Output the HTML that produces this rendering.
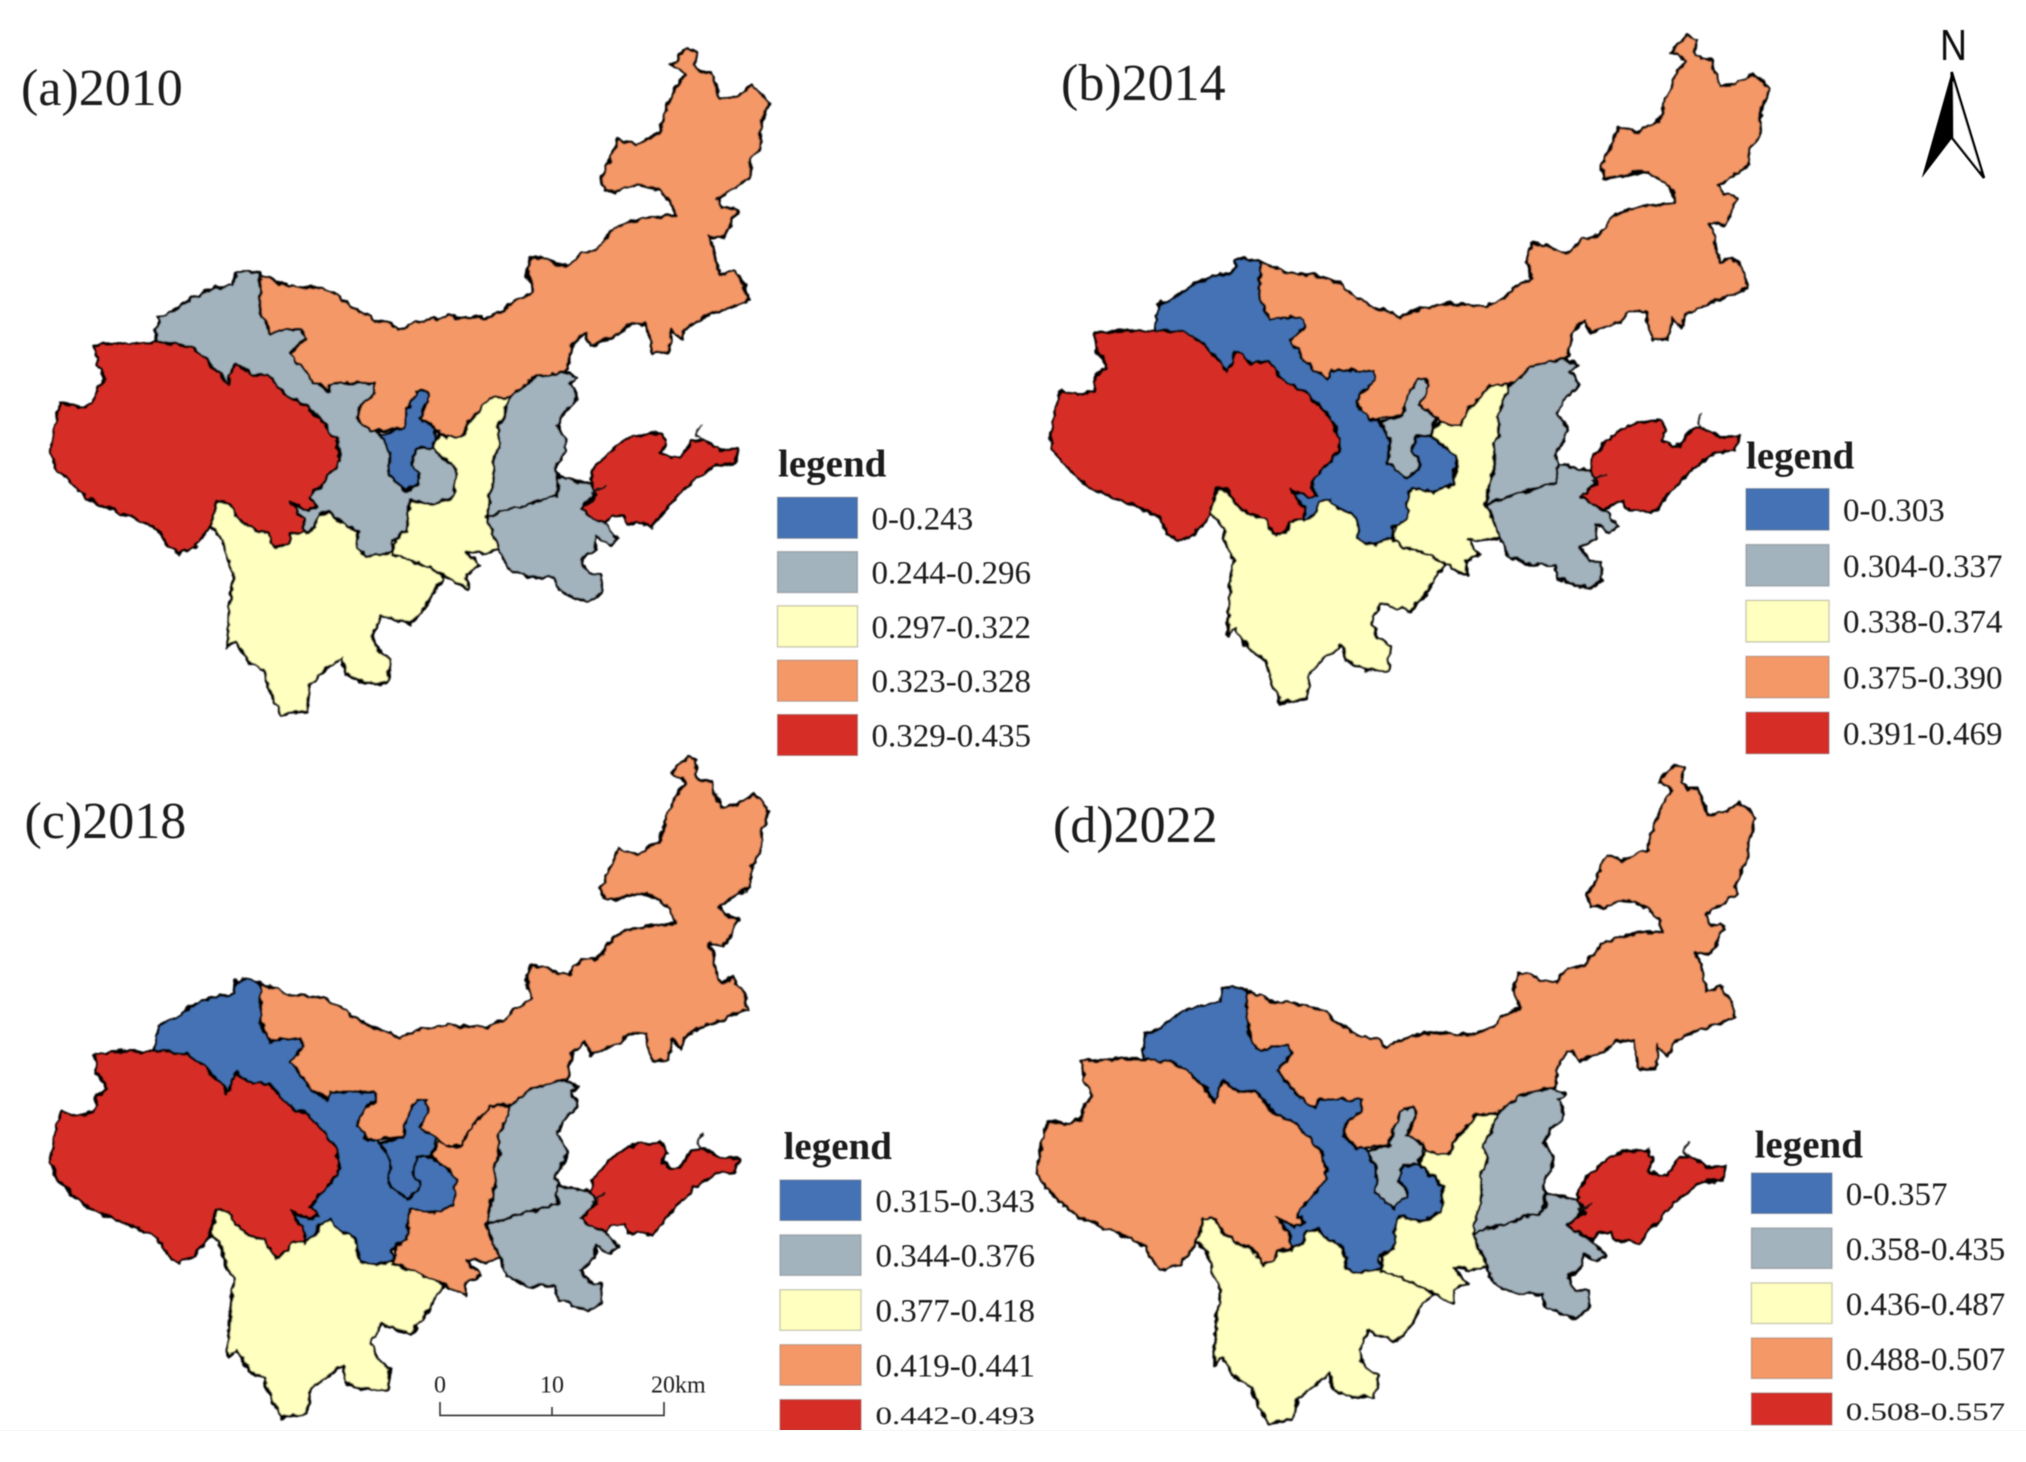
<!DOCTYPE html>
<html lang="en">
<head>
<meta charset="utf-8">
<title>Regional maps 2010-2022</title>
<style>
  html, body { margin: 0; padding: 0; background: #fff; }
  svg { display: block; }
  text { font-family: "Liberation Serif", serif; fill: #1c1c1c; }
</style>
</head>
<body>
<svg id="figure" xmlns="http://www.w3.org/2000/svg" width="2026" height="1462" viewBox="0 0 2026 1462">
  <defs>
    <filter id="jag" filterUnits="userSpaceOnUse" x="0" y="0" width="2026" height="1462" color-interpolation-filters="sRGB">
      <feTurbulence type="fractalNoise" baseFrequency="0.11" numOctaves="2" seed="4" result="n"/>
      <feDisplacementMap in="SourceGraphic" in2="n" scale="7" xChannelSelector="R" yChannelSelector="G"/>
      <feGaussianBlur stdDeviation="0.6"/>
    </filter>
    <filter id="soft" filterUnits="userSpaceOnUse" x="0" y="0" width="2026" height="1462">
      <feGaussianBlur stdDeviation="0.5"/>
    </filter>
  </defs>
  <rect x="0" y="0" width="2026" height="1462" fill="#ffffff"/>
  <g id="content" filter="url(#soft)"></g>
  <rect x="0" y="1430" width="2026" height="32" fill="#ffffff"/>
  <rect x="0" y="1430" width="2026" height="1" fill="#f6f6f6"/>

  <g filter="url(#soft)">
    <path d="M440 1402V1415.4H664V1402M552 1415V1407" fill="none" stroke="#333" stroke-width="1.6"/>
    <text x="440" y="1392.5" font-size="24" text-anchor="middle">0</text>
    <text x="552" y="1392.5" font-size="24" text-anchor="middle">10</text>
    <text x="651" y="1392.5" font-size="24">20km</text>
  </g>

  <g filter="url(#soft)">
    <text x="1940" y="60" font-size="44" textLength="27" lengthAdjust="spacingAndGlyphs" style="font-family:'Liberation Sans',sans-serif;fill:#111">N</text>
    <path d="M1951.7 72L1921.7 178L1952.3 138Z" fill="#000"/>
    <path d="M1951.7 72L1984 178L1952.3 138Z" fill="#fff" stroke="#000" stroke-width="2.6" stroke-linejoin="miter"/>
  </g>
</svg>

<script>
// Region drawing order
const regionNames = ['sichuan', 'shaanxi', 'henan', 'shanxi', 'gansu', 'qinghai', 'inner-mongolia', 'ningxia', 'shandong'];

// Class index per region (0 lowest ... 4 highest), same order as regionNames
const classes2010 = [2, 2, 1, 1, 1, 4, 3, 0, 4];
const classes2014 = [2, 2, 1, 1, 0, 4, 3, 1, 4];
const classes2018 = [2, 3, 1, 1, 0, 4, 3, 0, 4];
const classes2022 = [2, 2, 1, 1, 0, 3, 3, 1, 4];

// Legend class labels
const legend2010 = ['0-0.243', '0.244-0.296', '0.297-0.322', '0.323-0.328', '0.329-0.435'];
const legend2014 = ['0-0.303', '0.304-0.337', '0.338-0.374', '0.375-0.390', '0.391-0.469'];
const legend2018 = ['0.315-0.343', '0.344-0.376', '0.377-0.418', '0.419-0.441', '0.442-0.493'];
const legend2022 = ['0-0.357', '0.358-0.435', '0.436-0.487', '0.488-0.507', '0.508-0.557'];

const classColors = ['#4472B4', '#A3B3BD', '#FFFFBF', '#F59868', '#D62F27'];

// Province outlines (base-map geometry)
const outlines = {
  'sichuan': [[340,1060],[500,1060],[510,1090],[550,1130],[600,1170],[660,1200],[688,1240],[670,1270],[660,1300],[635,1340],[590,1320],[575,1360],[585,1395],[605,1415],[600,1465],[565,1465],[535,1445],[530,1410],[505,1435],[480,1470],[475,1525],[435,1535],[420,1490],[410,1440],[385,1420],[365,1375],[352,1390],[355,1300],[362,1230],[350,1195],[345,1160],[325,1125]],
  'shaanxi': [[789.5,845],[789.5,854],[779,894],[769,919],[774,958],[764,980],[766,1022],[758.5,1065],[753,1105],[761,1137],[774,1180],[748,1187],[722.5,1183],[743,1215.5],[722.5,1230],[722.5,1262],[707,1251],[686,1233],[645,1208],[609,1190],[620,1100],[650,1000],[680,930],[700,880],[760,840]],
  'henan': [[864,1022],[913,1037],[925,1050],[903,1094],[942,1130],[957,1155],[944,1169],[924,1151],[921,1180],[898,1201],[911,1230],[931.4,1233],[931.4,1273],[911,1291],[890,1283],[864,1266],[859,1240],[815,1237],[784,1216],[774,1180],[761,1137],[753,1108],[810,1070],[850,1040]],
  'shanxi': [[830,795],[875,797],[895,811],[882,822],[890,837],[895,854],[872,886],[862,912],[877,944],[875,969],[859,1005],[864,1019],[862,1062],[810,1083],[753,1108],[758.5,1065],[766,1022],[764,980],[774,958],[769,919],[779,894],[789,854],[800,835]],
  'gansu': [[378,580],[403,587],[410,660],[420,700],[480,700],[480,730],[460,760],[500,800],[590,800],[590,850],[570,900],[590,933],[640,920],[665.6,958],[707,1008],[702,1065],[671,1083],[635,1072.5],[632,1094],[629.5,1140],[606,1158],[609,1183],[588,1190],[568,1194],[555,1180],[552,1137],[521,1115],[511,1097.5],[493,1105],[488,1130],[472,1144],[464,1119],[446,1080],[477,1094],[480,1000],[400,900],[310,800],[240,735],[245,680],[270,665],[295,640],[330,618],[360,612],[365,585]],
  'qinghai': [[147,740],[200,735],[250,735],[290,742],[310,760],[340,800],[352,825],[365,780],[390,805],[415,803],[445,850],[475,870],[500,905],[520,940],[526,990],[510,1020],[485,1058],[480,1070],[493,1087],[477,1094],[449,1076],[470,1115],[472,1140],[449,1147],[446,1165],[426,1176],[410,1140],[385,1130],[365,1105],[355,1080],[335,1075],[325,1130],[300,1175],[275,1188],[258,1170],[245,1135],[215,1115],[185,1100],[135,1070],[115,1045],[90,1010],[77,975],[85,910],[95,865],[120,875],[145,865],[150,830],[165,815],[150,780]],
  'inner-mongolia': [[403,588],[425,600],[445,612],[470,615],[500,620],[525,635],[540,655],[560,670],[580,687],[605,695],[618,708],[640,693],[665,685],[695,678],[720,682],[755,682],[780,668],[795,645],[825,625],[815,590],[822,550],[840,552],[860,565],[880,570],[900,540],[925,535],[950,490],[975,475],[1010,465],[1045,463],[1040,435],[1020,410],[995,395],[975,400],[955,410],[935,408],[930,385],[945,340],[958,298],[985,312],[1005,295],[1022,285],[1030,240],[1045,190],[1060,160],[1055,150],[1040,140],[1050,120],[1065,103],[1078,112],[1075,140],[1085,155],[1100,155],[1108,185],[1115,210],[1140,207],[1165,185],[1180,200],[1190,220],[1180,260],[1175,315],[1162,345],[1160,380],[1140,400],[1112,425],[1120,445],[1135,445],[1143,455],[1135,465],[1130,490],[1120,510],[1097,505],[1105,530],[1110,570],[1115,590],[1135,578],[1150,605],[1158,645],[1120,665],[1090,680],[1060,705],[1055,730],[1040,708],[1035,755],[1010,757],[1005,730],[1000,695],[975,695],[960,715],[935,730],[915,742],[905,715],[885,740],[880,790],[875,797],[826,811],[800,840],[789,851],[758,854],[722,912],[715,938],[691,938],[676,922],[650,897],[630,900],[624,919],[573,926],[552,897],[555,876],[580,844],[580,822],[552,822],[513,822],[508,840],[485,819],[449,758],[472,725],[465,708],[440,708],[418,715],[403,670]],
  'ningxia': [[645,840],[660.5,840],[663,858],[650,897],[676,922],[668,962],[645,962],[637,997],[650,1015],[647.6,1033],[629.5,1055],[601,1019],[604,972],[588,933],[624,919],[629.5,879]],
  'shandong': [[899,1092],[924,1062],[916,1037],[916,1012],[934,980],[962,947],[988,933],[1024,930],[1032,951],[1024,972],[1040,985],[1053,983],[1071,947],[1089,944],[1115,965],[1143,964],[1138,994],[1109,997],[1086,1019],[1066,1040],[1042,1076],[1022,1108],[1009,1130],[988,1122],[973,1126],[965,1105],[947,1108],[937,1122],[918,1112]]
};

// Panel layout: map offset, tail squash and legend placement
const panels = [
  { id: 'a', title: '(a)2010', titleX: 21, titleY: 105, classes: classes2010, labels: legend2010,
    mapX: 0, mapY: 0, tail: 1,
    legX: 778, legY: 476.7, boxX: 777.5, boxW: 80, boxH: 41, boxTop: 497.3, boxStep: 54.3, textX: 871.5, lastH: 41, lastBase: 0, squash: 1 },
  { id: 'b', title: '(b)2014', titleX: 1061, titleY: 100, classes: classes2014, labels: legend2014,
    mapX: 1000, mapY: -12.6, tail: 1,
    legX: 1746, legY: 468.5, boxX: 1746, boxW: 83, boxH: 41.5, boxTop: 488.6, boxStep: 55.9, textX: 1843, lastH: 41.5, lastBase: 0, squash: 1 },
  { id: 'c', title: '(c)2018', titleX: 24.5, titleY: 838, classes: classes2018, labels: legend2018,
    mapX: 0, mapY: 708.6, tail: 0.85,
    legX: 783.6, legY: 1159, boxX: 780, boxW: 81, boxH: 40.5, boxTop: 1180, boxStep: 54.9, textX: 875.5, lastH: 31, lastBase: 1424, squash: 0.77 },
  { id: 'd', title: '(d)2022', titleX: 1053, titleY: 842, classes: classes2022, labels: legend2022,
    mapX: 987, mapY: 716.5, tail: 0.8,
    legX: 1754.6, legY: 1157.6, boxX: 1751.4, boxW: 80.6, boxH: 40.5, boxTop: 1173, boxStep: 55, textX: 1845.7, lastH: 32, lastBase: 1420, squash: 0.77 }
];

const NS = 'http://www.w3.org/2000/svg';
const scaleX = 1 / 1.548;
const scaleY = 1 / 2.145;
const tailStart = 1440;
const root = document.getElementById('content');

function mapX(panel, x) { return panel.mapX + x * scaleX; }
function mapY(panel, y, region) {
  const squashed = (region === 'sichuan' && y > tailStart) ? tailStart + (y - tailStart) * panel.tail : y;
  return panel.mapY + squashed * scaleY;
}
function outlinePath(panel, region) {
  return outlines[region].map(function (p, i) {
    return (i ? 'L' : 'M') + mapX(panel, p[0]).toFixed(1) + ' ' + mapY(panel, p[1], region).toFixed(1);
  }).join('') + 'Z';
}

panels.forEach(function (panel) {
  const g = document.createElementNS(NS, 'g');
  
  
  root.appendChild(g);

  const title = document.createElementNS(NS, 'text');
  
  
  title.setAttribute('x', panel.titleX);
  title.setAttribute('y', panel.titleY);
  title.setAttribute('font-size', '52');
  title.textContent = panel.title;
  g.appendChild(title);

  const map = document.createElementNS(NS, 'g');
  
  
  map.setAttribute('filter', 'url(#jag)');
  g.appendChild(map);

  regionNames.forEach(function (region, i) {
    const path = document.createElementNS(NS, 'path');
    
    
    path.setAttribute('d', outlinePath(panel, region));
    path.setAttribute('fill', classColors[panel.classes[i]]);
    path.setAttribute('stroke', '#000');
    path.setAttribute('stroke-width', '2.7');
    path.setAttribute('stroke-linejoin', 'round');
    map.appendChild(path);
  });

  const detail = document.createElementNS(NS, 'path');
  
  
  detail.setAttribute('d',
    'M' + mapX(panel, 1086) + ' ' + mapY(panel, 912) + 'L' + mapX(panel, 1079) + ' ' + mapY(panel, 935) + 'L' + mapX(panel, 1089) + ' ' + mapY(panel, 944) +
    'M' + mapX(panel, 916) + ' ' + mapY(panel, 1058) + 'L' + mapX(panel, 939) + ' ' + mapY(panel, 1042));
  detail.setAttribute('fill', 'none');
  detail.setAttribute('stroke', '#111');
  detail.setAttribute('stroke-width', '2.2');
  map.appendChild(detail);

  const legend = document.createElementNS(NS, 'g');
  
  
  g.appendChild(legend);

  const heading = document.createElementNS(NS, 'text');
  
  
  heading.setAttribute('x', panel.legX);
  heading.setAttribute('y', panel.legY);
  heading.setAttribute('font-size', '39');
  heading.setAttribute('font-weight', 'bold');
  heading.textContent = 'legend';
  legend.appendChild(heading);

  panel.labels.forEach(function (label, i) {
    const isLast = i === panel.labels.length - 1;
    const top = panel.boxTop + i * panel.boxStep;
    const height = isLast ? panel.lastH : panel.boxH;

    const box = document.createElementNS(NS, 'rect');
    
    
    box.setAttribute('x', panel.boxX);
    box.setAttribute('y', top);
    box.setAttribute('width', panel.boxW);
    box.setAttribute('height', height);
    box.setAttribute('fill', classColors[i]);
    box.setAttribute('stroke', 'rgba(90,90,90,0.35)');
    box.setAttribute('stroke-width', '1.4');
    legend.appendChild(box);

    const text = document.createElementNS(NS, 'text');
    
    
    text.setAttribute('font-size', '33');
    const base = (isLast && panel.lastBase) ? panel.lastBase : top + panel.boxH / 2 + 11.5;
    const squash = isLast ? panel.squash : 1;
    text.setAttribute('transform', 'translate(' + panel.textX + ' ' + base + ') scale(1 ' + squash + ')');
    text.textContent = label;
    legend.appendChild(text);
  });
});
</script>
</body>
</html>
